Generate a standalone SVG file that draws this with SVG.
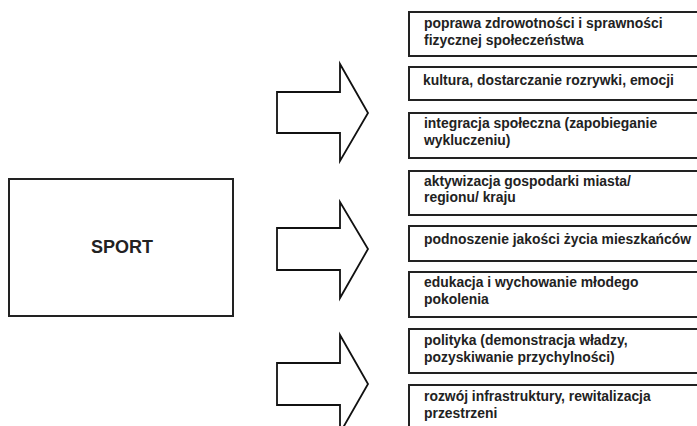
<svg xmlns="http://www.w3.org/2000/svg" width="697" height="426" viewBox="0 0 697 426">
<style>
.box{fill:#fff;stroke:#222;stroke-width:2}
.arr{fill:#fff;stroke:#111;stroke-width:1.8;stroke-linejoin:miter}
text{font-family:"Liberation Sans",Arial,sans-serif;font-weight:bold;font-size:13.9px;fill:#222}
.big{font-size:18px}
</style>
<rect width="697" height="426" fill="#fff"/>
<g id="sport"><rect class="box" x="9" y="179" width="224" height="137"/><text class="big" x="122" y="253" text-anchor="middle">SPORT</text></g>
<g id="connectors">
<polygon class="arr" points="277,92 340,92 340,64 368,113 340,161 340,133 277,133"/>
<polygon class="arr" points="277,228 340,228 340,202 368,249 340,298 340,270 277,270"/>
<polygon class="arr" points="277,363 340,363 340,335 368,384 340,433 340,405 277,405"/>
</g>
<g id="n1"><rect class="box" x="409" y="12" width="300" height="44"/><text x="424" y="28">poprawa zdrowotności i sprawności</text><text x="424" y="45">fizycznej społeczeństwa</text></g>
<g id="n2"><rect class="box" x="409" y="67" width="300" height="33"/><text x="423" y="85">kultura, dostarczanie rozrywki, emocji</text></g>
<g id="n3"><rect class="box" x="409" y="113" width="300" height="45"/><text x="424" y="128">integracja społeczna (zapobieganie</text><text x="424" y="145">wykluczeniu)</text></g>
<g id="n4"><rect class="box" x="409" y="171" width="300" height="44"/><text x="424" y="186">aktywizacja gospodarki miasta/</text><text x="424" y="202">regionu/ kraju</text></g>
<g id="n5"><rect class="box" x="409" y="226" width="300" height="35"/><text x="424" y="244">podnoszenie jakości życia mieszkańców</text></g>
<g id="n6"><rect class="box" x="409" y="272" width="300" height="45"/><text x="424" y="287">edukacja i wychowanie młodego</text><text x="424" y="304">pokolenia</text></g>
<g id="n7"><rect class="box" x="409" y="329" width="300" height="44"/><text x="424" y="345">polityka (demonstracja władzy,</text><text x="424" y="362">pozyskiwanie przychylności)</text></g>
<g id="n8"><rect class="box" x="409" y="385" width="300" height="60"/><text x="424" y="401">rozwój infrastruktury, rewitalizacja</text><text x="424" y="418">przestrzeni</text></g>
</svg>
